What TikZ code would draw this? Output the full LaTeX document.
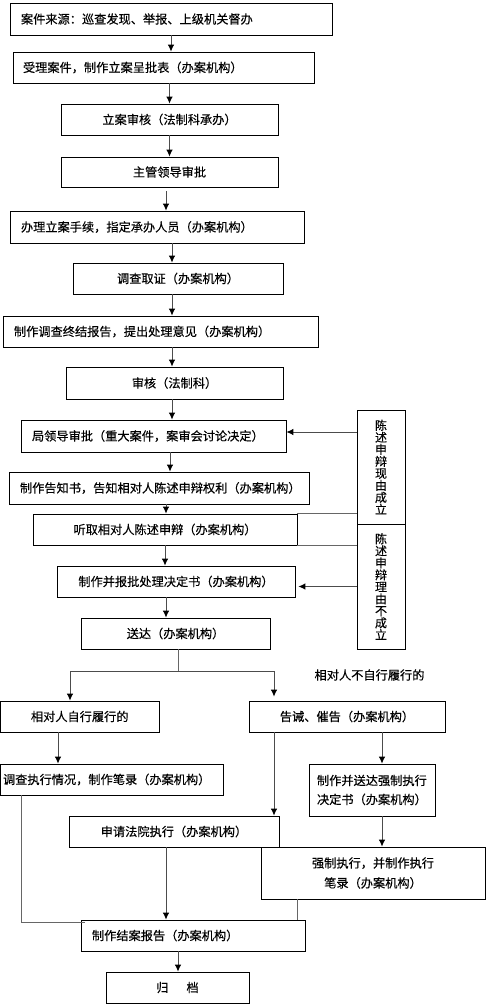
\documentclass[tikz,border=0pt]{standalone}
\usepackage{fontspec}
\newfontfamily\cjk{Noto Sans CJK SC}[FakeBold=0.3]
\usetikzlibrary{arrows.meta,calc}
\newcommand\flushtxt[2]{\makebox[#1][l]{#2}}
\tikzset{
  box/.style={draw=black, line width=0.8pt, inner sep=0pt, align=center, font=\cjk\fontsize{12.2}{14}\selectfont},
  vbox/.style={box, font=\cjk\fontsize{12}{12}\selectfont},
  arr/.style={draw=black!70, line width=0.9pt, -{Latex[length=7pt,width=6.5pt,color=black]}},
  ln/.style={draw=black!60, line width=1pt},
  lbl/.style={font=\cjk\fontsize{12.2}{14}\selectfont, inner sep=0pt}
}
\begin{document}
\begin{tikzpicture}[x=1pt,y=-1pt]
\useasboundingbox (0,0) rectangle (488,1006);

\node[box, inner xsep=11pt, minimum height=32pt] (B1) at (171,19) {\flushtxt{300pt}{案件来源：巡查发现、举报、上级机关督办}};
\node[box, inner xsep=10pt, minimum height=31pt] (B2) at (163.5,67.5) {\flushtxt{281pt}{受理案件，制作立案呈批表（办案机构）}};
\node[box, minimum width=217pt, minimum height=31pt] (B3) at (169.5,119.5) {立案审核（法制科承办）};
\node[box, minimum width=217pt, minimum height=30pt] (B4) at (169.5,172) {主管领导审批};
\node[box, inner xsep=11pt, minimum height=32pt] (B5) at (157,227) {\flushtxt{272pt}{办理立案手续，指定承办人员（办案机构）}};
\node[box, minimum width=210pt, minimum height=31pt] (B6) at (178,278.5) {调查取证（办案机构）};
\node[box, inner xsep=11pt, minimum height=31pt] (B7) at (160.5,331.5) {\flushtxt{293pt}{制作调查终结报告，提出处理意见（办案机构）}};
\node[box, minimum width=217pt, minimum height=32pt] (B8) at (174.5,383) {审核（法制科）};
\node[box, inner xsep=11pt, minimum height=32pt] (B9) at (153.5,436) {\flushtxt{243pt}{局领导审批（重大案件，案审会讨论决定）}};
\node[box, inner xsep=11pt, minimum height=32pt] (B10) at (159,488) {\flushtxt{278pt}{制作告知书，告知相对人陈述申辩权利（办案机构）}};
\node[box, minimum width=264pt, minimum height=31pt] (B11) at (165,529.5) {听取相对人陈述申辩（办案机构）};
\node[box, minimum width=238pt, minimum height=31pt] (B12) at (176,581.5) {制作并报批处理决定书（办案机构）};
\node[box, minimum width=189pt, minimum height=31pt] (B13) at (175.5,633.5) {送达（办案机构）};

\node[vbox, minimum width=48pt, minimum height=114pt] (S1) at (381,467) {陈\\述\\申\\辩\\现\\由\\成\\立};
\node[vbox, minimum width=48pt, minimum height=125pt] (S2) at (381,586.5) {陈\\述\\申\\辩\\理\\由\\不\\成\\立};

\node[lbl] (L) at (369.5,675) {相对人不自行履行的};

\node[box, minimum width=158.5pt, minimum height=31pt] (B14) at (79.75,716.5) {相对人自行履行的};
\node[box, minimum width=196pt, minimum height=31pt] (B15) at (347,716.5) {告诫、催告（办案机构）};
\node[box, inner xsep=2.5pt, minimum height=31pt] (B16) at (111.75,779.5) {\flushtxt{217.5pt}{调查执行情况，制作笔录（办案机构）}};
\node[box, inner xsep=8pt, minimum height=52pt, font=\cjk\fontsize{12.2}{19}\selectfont] (B17) at (372,790) {\flushtxt{110pt}{制作并送达强制执行}\\\flushtxt{110pt}{决定书（办案机构）}};
\node[box, minimum width=210pt, minimum height=31pt] (B18) at (174,831.5) {申请法院执行（办案机构）};
\node[box, minimum width=224pt, minimum height=52pt, font=\cjk\fontsize{12.2}{20}\selectfont] (B19) at (373,873) {强制执行，并制作执行\\笔录（办案机构）};
\node[box, inner xsep=11pt, minimum height=31pt] (B20) at (193,935.5) {\flushtxt{202pt}{制作结案报告（办案机构）}};
\node[box, minimum width=143pt, minimum height=31pt] (B21) at (177.5,987.5) {归\hspace{18pt}档};

% main chain
\draw[arr] (B1.south) -- (B1.south |- B2.north);
\draw[arr] (B3.north |- B2.south) -- (B3.north);
\draw[arr] (B3.south) -- (B4.north);
\draw[arr] ([xshift=-3.5pt,yshift=-4pt]B4.south) -- ([xshift=-3.5pt]B4.south |- B5.north);
\draw[arr] ([xshift=15pt]B5.south) -- ([xshift=15pt]B5.south |- B6.north);
\draw[arr] ([xshift=-6pt]B6.south) -- ([xshift=-6pt]B6.south |- B7.north);
\draw[arr] ([xshift=11.5pt]B7.south) -- ([xshift=11.5pt]B7.south |- B8.north);
\draw[arr] ([xshift=-2.5pt]B8.south) -- ([xshift=-2.5pt]B8.south |- B9.north);
\draw[arr] ([xshift=16.5pt]B9.south) -- ([xshift=16.5pt]B9.south |- B10.north);
\draw[arr] ([xshift=7pt]B10.south) -- ([xshift=7pt]B10.south |- B11.north);
\draw[arr] (B11.south) -- (B11.south |- B12.north);
\draw[arr] ([xshift=-10pt]B12.south) -- ([xshift=-10pt]B12.south |- B13.north);

% side boxes
\draw[arr] ([yshift=35pt]S1.west) -- ([yshift=35pt]S1.west -| B9.east);
\draw[arr, shorten >=3pt] (S2.west) -- (S2.west -| B12.east);
\draw[ln] (B11.north east) -- (B11.north east -| S1.west);
\draw[ln] (B11.south east) -- (B11.south east -| S2.west);

% branch
\coordinate (J) at (178,671);
\draw[ln] ([xshift=2.5pt]B13.south) -- (J);
\draw[arr] (J) -| ([xshift=-9.75pt]B14.north);
\draw[arr, shorten >=4pt] (J) -| ([xshift=-73pt]B15.north);

\draw[arr] ([xshift=-21.75pt]B14.south) -- ([xshift=-21.75pt]B14.south |- B16.north);
\draw[arr] ([xshift=35pt]B15.south) -- ([xshift=35pt]B15.south |- B17.north);
\draw[arr] ([xshift=-73pt]B15.south) -- ([xshift=-73pt]B15.south |- B18.north);
\draw[arr] ([xshift=10pt]B17.south) -- ([xshift=10pt]B17.south |- B19.north);

\draw[ln] ([xshift=21.5pt]B16.south west) |- ([xshift=4pt,yshift=-3pt]B20.north west);
\draw[arr] ([xshift=-8pt]B18.south) -- ([xshift=-8pt]B18.south |- B20.north);
\draw[ln] ([xshift=37pt]B19.south west) -- ([xshift=37pt]B19.south west |- B20.north);
\draw[arr] ([xshift=-15pt]B20.south) -- ([xshift=-15pt]B20.south |- B21.north);
\end{tikzpicture}
\end{document}
